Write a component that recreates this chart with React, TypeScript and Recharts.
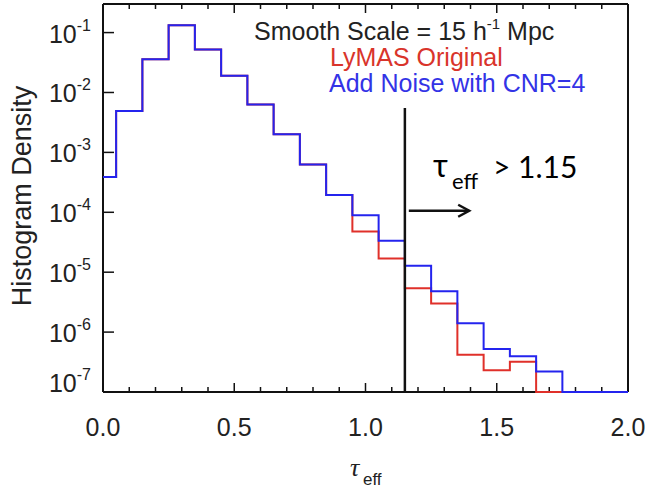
import { LineChart, Line, XAxis, YAxis, ReferenceLine } from 'recharts';

// bin edges of the histogram (tau_eff), each value below is the height of the bin that starts at that edge
const EDGES = [0, 0.05, 0.15, 0.25, 0.35, 0.45, 0.55, 0.65, 0.75, 0.85, 0.95, 1.05, 1.15, 1.25, 1.35, 1.45, 1.55, 1.65, 1.75, 1.85, 1.95, 2.0];
const NOISE = [3.9e-4, 4.9e-3, 3.6e-2, 1.33e-1, 5.2e-2, 1.9e-2, 6.3e-3, 2.0e-3, 6.3e-4, 1.95e-4, 8.9e-5, 3.35e-5, 1.28e-5, 4.8e-6, 1.4e-6, 5.2e-7, 3.95e-7, 2.2e-7, 1e-7, 1e-7, 1e-7, 1e-7];
const ORIGINAL = [3.9e-4, 4.9e-3, 3.6e-2, 1.33e-1, 5.2e-2, 1.9e-2, 6.3e-3, 2.0e-3, 6.3e-4, 1.95e-4, 4.8e-5, 1.7e-5, 5.4e-6, 3.0e-6, 4.2e-7, 2.3e-7, 3.2e-7, 1e-7, 1e-7, 1e-7, 1e-7, 1e-7];

const X_TICKS = [0, 0.1, 0.2, 0.3, 0.4, 0.5, 0.6, 0.7, 0.8, 0.9, 1.0, 1.1, 1.2, 1.3, 1.4, 1.5, 1.6, 1.7, 1.8, 1.9, 2.0];
const Y_TICKS = [1e-7, 1e-6, 1e-5, 1e-4, 1e-3, 1e-2, 1e-1];
const Y_DOMAIN = [1e-7, 0.3];

const CUT = 1.15;
const CUT_TOP = 5.5e-3;
const ARROW_Y = 1.06e-4;
const ARROW_X = [1.165, 1.395];

const RED = '#e0302a';
const BLUE = '#2424ee';
const INK = '#111';
const FONT = '"Liberation Sans", Arial, Helvetica, sans-serif';

const data = EDGES.map((x, i) => ({ x, noise: NOISE[i], original: ORIGINAL[i] }));

const isMajor = (v: number) => Math.abs(v * 2 - Math.round(v * 2)) < 1e-6;

// axes are 1px thick, the tick marks point into the plot (IDL style)
function BottomTick(props: any) {
  const { x, y, payload } = props;
  const v = payload.value;
  const major = isMajor(v);
  const ay = y - 1;
  return (
    <g>
      <line x1={x} x2={x} y1={ay} y2={ay - (major ? 8 : 4)} stroke={INK} strokeWidth={1.5} />
      {major && (
        <text x={x} y={ay + 45} textAnchor="middle" fontSize={25} fill="#222" fontFamily={FONT}>
          {v.toFixed(1)}
        </text>
      )}
    </g>
  );
}

function TopTick(props: any) {
  const { x, y, payload } = props;
  const major = isMajor(payload.value);
  const ay = y + 1;
  return <line x1={x} x2={x} y1={ay} y2={ay + (major ? 8 : 4)} stroke={INK} strokeWidth={1.5} />;
}

function LeftTick(props: any) {
  const { x, y, payload } = props;
  const exp = Math.round(Math.log10(payload.value));
  const ax = x + 1;
  const base = exp === -7 ? y : y + 10;
  return (
    <g>
      <line x1={ax} x2={ax + 10} y1={y} y2={y} stroke={INK} strokeWidth={1.5} />
      <text x={ax - 13} y={base} textAnchor="end" fontSize={25} fill="#222" fontFamily={FONT}>
        10<tspan dy={-12} fontSize={16}>{exp}</tspan>
      </text>
    </g>
  );
}

function RightTick(props: any) {
  const { x, y } = props;
  const ax = x - 1;
  return <line x1={ax} x2={ax - 10} y1={y} y2={y} stroke={INK} strokeWidth={1.5} />;
}

function Arrow(props: any) {
  const { x1, y1, x2, y2 } = props;
  return (
    <g stroke={INK} strokeWidth={2.5} fill="none">
      <line x1={x1} y1={y1} x2={x2} y2={y2} />
      <path d={`M${x2 - 11},${y2 - 6} L${x2},${y2} L${x2 - 11},${y2 + 6}`} />
    </g>
  );
}

export default function App() {
  const axisLine = { stroke: INK, strokeWidth: 2 };
  return (
    <div style={{ position: 'absolute', left: 0, top: 0, background: '#fff' }}>
      <LineChart width={645} height={489} data={data} margin={{ top: 3, right: 16, bottom: 96, left: 102 }}>
        <XAxis xAxisId="b" dataKey="x" type="number" domain={[0, 2]} ticks={X_TICKS} interval={0}
          height={1} tickSize={0} tickMargin={0} tickLine={false} axisLine={axisLine} tick={<BottomTick />} />
        <XAxis xAxisId="t" orientation="top" dataKey="x" type="number" domain={[0, 2]} ticks={X_TICKS} interval={0}
          height={1} tickSize={0} tickMargin={0} tickLine={false} axisLine={axisLine} tick={<TopTick />} />
        <YAxis yAxisId="l" scale="log" domain={Y_DOMAIN} ticks={Y_TICKS} interval={0}
          width={1} tickSize={0} tickMargin={0} tickLine={false} axisLine={axisLine} tick={<LeftTick />} />
        <YAxis yAxisId="r" orientation="right" scale="log" domain={Y_DOMAIN} ticks={Y_TICKS} interval={0}
          width={1} tickSize={0} tickMargin={0} tickLine={false} axisLine={axisLine} tick={<RightTick />} />

        <Line xAxisId="b" yAxisId="l" type="stepAfter" dataKey="original" stroke={RED} strokeWidth={2}
          dot={false} activeDot={false} isAnimationActive={false} zIndex={800} />
        <Line xAxisId="b" yAxisId="l" type="stepAfter" dataKey="noise" stroke={BLUE} strokeWidth={2}
          dot={false} activeDot={false} isAnimationActive={false} zIndex={801} />

        <ReferenceLine xAxisId="b" yAxisId="l" segment={[{ x: CUT, y: CUT_TOP }, { x: CUT, y: Y_DOMAIN[0] }]}
          stroke={INK} strokeWidth={2.5} zIndex={900} />
        <ReferenceLine xAxisId="b" yAxisId="l" segment={[{ x: ARROW_X[0], y: ARROW_Y }, { x: ARROW_X[1], y: ARROW_Y }]}
          shape={(p: any) => <Arrow {...p} />} />

        <text x={22} y={196} transform="rotate(-90, 22, 196)" textAnchor="middle" dominantBaseline="central"
          fontSize={27} fill="#222" fontFamily={FONT}>Histogram Density</text>

        <text x={350} y={476} fontSize={26} fontStyle="italic" fill="#222" fontFamily='"Liberation Serif", serif'>τ</text>
        <text x={363} y={485} fontSize={17} fill="#222" fontFamily={FONT}>eff</text>

        <text x={254} y={40} fontSize={25} fill="#222" fontFamily={FONT}>
          Smooth Scale = 15 h<tspan dy={-11} fontSize={15}>-1</tspan><tspan dy={11}> Mpc</tspan>
        </text>
        <text x={330} y={66} fontSize={25} fill="#d9342b" fontFamily={FONT}>LyMAS Original</text>
        <text x={329} y={92} fontSize={25} fill="#3333e6" fontFamily={FONT}>Add Noise with CNR=4</text>

        <text x={433} y={177} fontSize={32} fill="#000" fontFamily="Lato, sans-serif">τ</text>
        <text x={452} y={189} fontSize={22} fill="#000" fontFamily="Lato, sans-serif">eff</text>
        <text x={493} y={178} fontSize={30} fill="#000" fontFamily="Lato, sans-serif">&gt; 1.15</text>
      </LineChart>
    </div>
  );
}
